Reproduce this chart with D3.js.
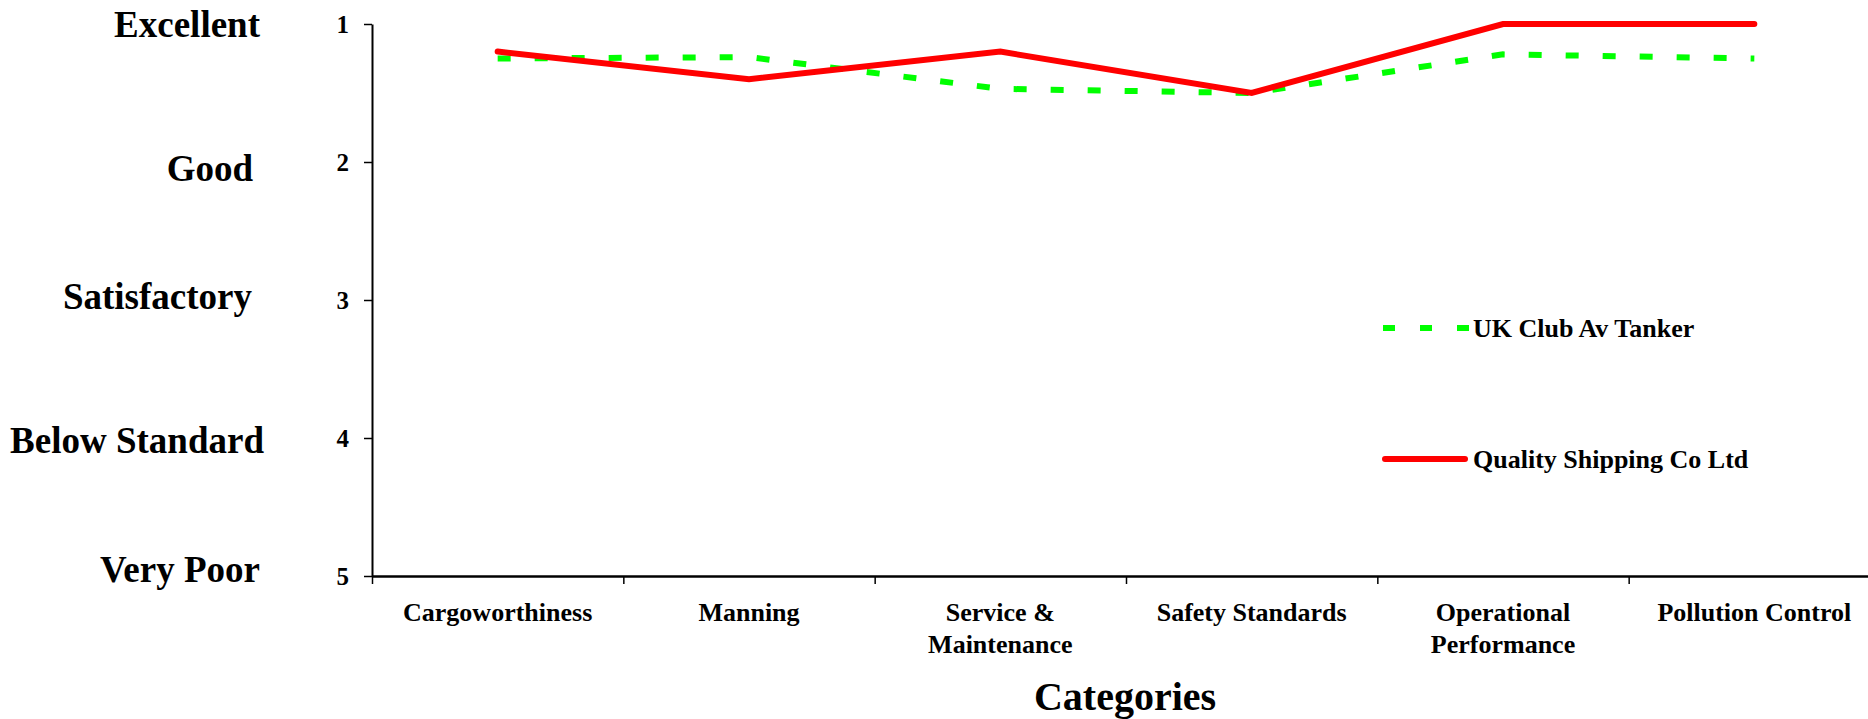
<!DOCTYPE html>
<html>
<head>
<meta charset="utf-8">
<script src="https://cdn.jsdelivr.net/npm/d3@7"></script>
<style>
  body { margin: 0; background: #fff; overflow: hidden; }
  text { font-family: 'Liberation Serif', 'Times New Roman', serif; font-weight: bold; fill: #000; }
</style>
</head>
<body>
<div id="chart"></div>
<script>
// chart values
const categories = ['Cargoworthiness', 'Manning', 'Service & Maintenance', 'Safety Standards', 'Operational Performance', 'Pollution Control'];
const categoryLines = [['Cargoworthiness'], ['Manning'], ['Service &', 'Maintenance'], ['Safety Standards'], ['Operational', 'Performance'], ['Pollution Control']];
const ukClub = [1.25, 1.24, 1.47, 1.5, 1.22, 1.25];
const qualityShipping = [1.2, 1.4, 1.2, 1.5, 1.0, 1.0];
const yTicks = [1, 2, 3, 4, 5];
const ratingLabels = ['Excellent', 'Good', 'Satisfactory', 'Below Standard', 'Very Poor'];
const seriesNames = ['UK Club Av Tanker', 'Quality Shipping Co Ltd'];

// small layout nudges for the rating labels (dx, dy in px)
const ratingNudge = [[0, 0], [-7, 6], [-8, -4], [4, 2], [0, -7]];

const svgWidth = 1868,
  svgHeight = 719;
const margin = { top: 24, left: 372, bottom: 143 };
const width = 1508; // plot runs slightly past the right edge, as in the original
const height = svgHeight - margin.top - margin.bottom;

const svg = d3
  .select('#chart')
  .append('svg')
  .attr('width', svgWidth)
  .attr('height', svgHeight)
  .append('g')
  .attr('transform', `translate(${margin.left},${margin.top})`);

const x = d3.scaleBand().domain(categories).range([0, width]).padding(0);
const xEdge = d3.scaleLinear().domain([0, categories.length]).range([0, width]);
const y = d3.scaleLinear().domain([1, 5]).range([0, height]);

// x axis with ticks between categories
const xAxis = svg
  .append('g')
  .attr('transform', `translate(0,${height})`)
  .call(
    d3.axisBottom(xEdge)
      .tickValues(d3.range(0, categories.length + 1))
      .tickFormat('')
      .tickSize(8)
      .tickSizeOuter(0),
  );
xAxis.select('.domain').attr('stroke-width', 2.5);
xAxis.selectAll('.tick line').attr('stroke-width', 1.5);

// category labels
categories.forEach((c, i) => {
  const t = svg
    .append('text')
    .attr('x', x(c) + x.bandwidth() / 2)
    .attr('y', height + 45)
    .attr('text-anchor', 'middle')
    .style('font-size', '26px');
  categoryLines[i].forEach((line, j) => {
    t.append('tspan')
      .attr('x', x(c) + x.bandwidth() / 2)
      .attr('dy', j === 0 ? 0 : 32)
      .text(line);
  });
});

// y axis
const yAxis = svg
  .append('g')
  .call(d3.axisLeft(y).tickValues(yTicks).tickFormat(d3.format('d')).tickSize(8).tickSizeOuter(0).tickPadding(15));
yAxis.select('.domain').attr('stroke-width', 2);
yAxis.selectAll('.tick line').attr('stroke-width', 1.5);
yAxis.selectAll('.tick text')
  .style('font-family', "'Liberation Serif', 'Times New Roman', serif")
  .style('font-weight', 'bold')
  .style('font-size', '25px');

// rating labels
svg
  .selectAll('.rating')
  .data(yTicks)
  .enter()
  .append('text')
  .attr('class', 'rating')
  .attr('x', (d, i) => -112 + ratingNudge[i][0])
  .attr('y', (d, i) => y(d) + ratingNudge[i][1])
  .attr('dy', '0.34em')
  .attr('text-anchor', 'end')
  .style('font-size', '37px')
  .text((d, i) => ratingLabels[i]);

// axis title
svg
  .append('text')
  .attr('x', 1125 - margin.left)
  .attr('y', height + 134)
  .attr('text-anchor', 'middle')
  .style('font-size', '40px')
  .text('Categories');

// lines
const line = (vals) =>
  d3.line()
    .x((d, i) => x(categories[i]) + x.bandwidth() / 2)
    .y((d) => y(d))(vals);

svg
  .append('path')
  .attr('d', line(ukClub))
  .attr('fill', 'none')
  .attr('stroke', '#00ff00')
  .attr('stroke-width', 6)
  .attr('stroke-dasharray', '13,24');

svg
  .append('path')
  .attr('d', line(qualityShipping))
  .attr('fill', 'none')
  .attr('stroke', '#ff0000')
  .attr('stroke-width', 6)
  .attr('stroke-linecap', 'round');

// legend
const legend = svg.append('g').attr('transform', `translate(${1383 - margin.left},0)`);
legend
  .append('line')
  .attr('x1', 0)
  .attr('x2', 86)
  .attr('y1', 328 - margin.top)
  .attr('y2', 328 - margin.top)
  .attr('stroke', '#00ff00')
  .attr('stroke-width', 6)
  .attr('stroke-dasharray', '12,25');
legend
  .append('text')
  .attr('x', 90)
  .attr('y', 328 - margin.top)
  .attr('dy', '0.34em')
  .style('font-size', '26px')
  .text(seriesNames[0]);
legend
  .append('line')
  .attr('x1', 2)
  .attr('x2', 82)
  .attr('y1', 459 - margin.top)
  .attr('y2', 459 - margin.top)
  .attr('stroke', '#ff0000')
  .attr('stroke-width', 6)
  .attr('stroke-linecap', 'round');
legend
  .append('text')
  .attr('x', 90)
  .attr('y', 459 - margin.top)
  .attr('dy', '0.34em')
  .style('font-size', '26px')
  .text(seriesNames[1]);
</script>
</body>
</html>
